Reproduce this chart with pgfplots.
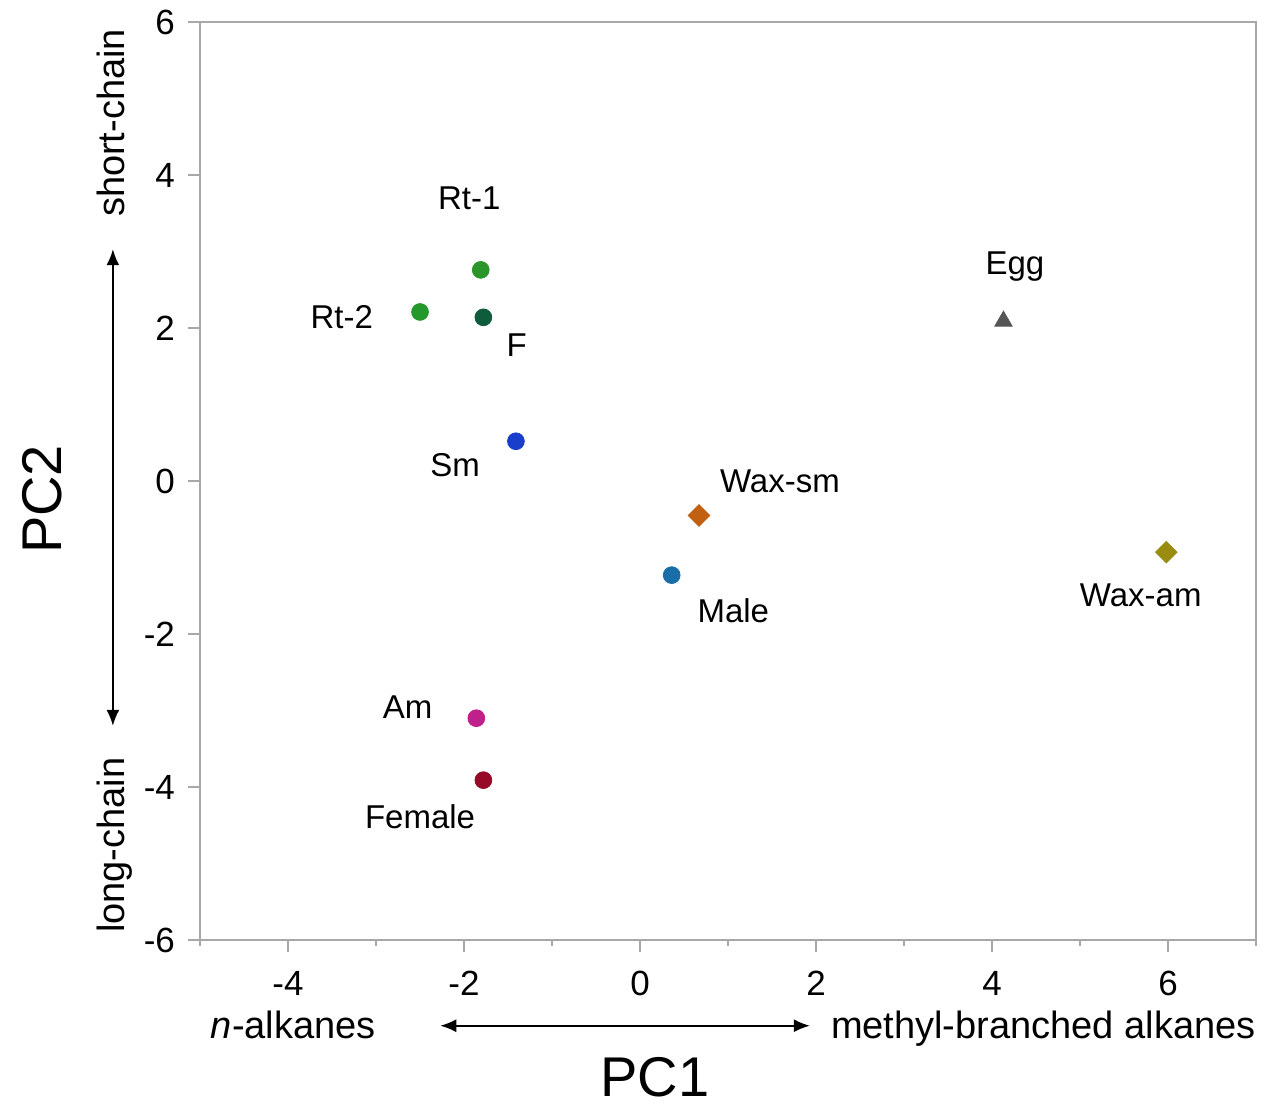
\documentclass[border=0pt]{standalone}
\usepackage{pgfplots}
\pgfplotsset{compat=1.18}
\usepackage{fontspec}
\setmainfont{Liberation Sans}
\usetikzlibrary{arrows.meta}
\definecolor{axgray}{HTML}{A8A8A8}
\definecolor{cRtone}{HTML}{2A962A}
\definecolor{cRttwo}{HTML}{24982A}
\definecolor{cF}{HTML}{0F5C3C}
\definecolor{cSm}{HTML}{1A3ECC}
\definecolor{cWaxsm}{HTML}{C06010}
\definecolor{cMale}{HTML}{1A6EA8}
\definecolor{cEgg}{HTML}{555555}
\definecolor{cWaxam}{HTML}{9A8C10}
\definecolor{cAm}{HTML}{C0208A}
\definecolor{cFemale}{HTML}{960A28}
\begin{document}
\begin{tikzpicture}
\begin{axis}[
  scale only axis,
  width=528pt, height=459pt,
  xmin=-5, xmax=7, ymin=-6, ymax=6,
  xtick={-4,-2,0,2,4,6},
  minor xtick={-5,-3,-1,1,3,5,7},
  ytick={-6,-4,-2,0,2,4,6},
  tick align=outside,
  major tick length=6pt,
  minor tick length=3pt,
  tick style={axgray, line width=1pt},
  axis line style={axgray, line width=1pt},
  xtick pos=bottom, ytick pos=left,
  /pgf/number format/assume math mode=true,
  ticklabel style={font=\fontsize{17.5}{20}\selectfont},
  xticklabel style={yshift=-6pt},
  yticklabel style={xshift=-3pt},
  clip=false,
]
\addplot[only marks, mark=*, mark size=4.2pt, color=cRtone] coordinates {(-1.81,2.76)};
\addplot[only marks, mark=*, mark size=4.2pt, color=cRttwo] coordinates {(-2.50,2.21)};
\addplot[only marks, mark=*, mark size=4.2pt, color=cF] coordinates {(-1.78,2.14)};
\addplot[only marks, mark=*, mark size=4.2pt, color=cSm] coordinates {(-1.41,0.52)};
\addplot[only marks, mark=square*, mark size=3.8pt, mark options={rotate=45}, color=cWaxsm] coordinates {(0.67,-0.45)};
\addplot[only marks, mark=*, mark size=4.2pt, color=cMale] coordinates {(0.36,-1.23)};
\addplot[only marks, mark=triangle*, mark size=5pt, color=cEgg] coordinates {(4.13,2.09)};
\addplot[only marks, mark=square*, mark size=3.8pt, mark options={rotate=45}, color=cWaxam] coordinates {(5.98,-0.93)};
\addplot[only marks, mark=*, mark size=4.2pt, color=cAm] coordinates {(-1.86,-3.10)};
\addplot[only marks, mark=*, mark size=4.2pt, color=cFemale] coordinates {(-1.78,-3.91)};

\begin{scope}[every node/.style={font=\fontsize{16.5}{19}\selectfont}]
\node at (axis cs:-1.94,3.69) {Rt-1};
\node at (axis cs:-3.39,2.14) {Rt-2};
\node at (axis cs:-1.40,1.78) {F};
\node at (axis cs:-2.10,0.21) {Sm};
\node at (axis cs:1.59,0.00) {Wax-sm};
\node at (axis cs:1.06,-1.69) {Male};
\node at (axis cs:4.26,2.80) {Egg};
\node at (axis cs:5.69,-1.50) {Wax-am};
\node at (axis cs:-2.64,-2.95) {Am};
\node at (axis cs:-2.50,-4.39) {Female};
\end{scope}

\begin{scope}[every node/.style={font=\fontsize{19}{22}\selectfont, inner sep=0pt}]
\node[rotate=90, anchor=base] at (axis cs:-5.86,4.68) {short-chain};
\node[rotate=90, anchor=base] at (axis cs:-5.86,-4.76) {long-chain};
\node[anchor=base] at (axis cs:-3.94,-7.29) {\textit{n}-alkanes};
\node[anchor=base east] at (axis cs:7.0,-7.29) {methyl-branched alkanes};
\end{scope}
\draw[{Latex[length=8pt,width=6.5pt]}-{Latex[length=8pt,width=6.5pt]}, line width=0.9pt, black]
  (axis cs:-5.99,3.03) -- (axis cs:-5.99,-3.20);
\draw[{Latex[length=8pt,width=6.5pt]}-{Latex[length=8pt,width=6.5pt]}, line width=0.9pt, black]
  (axis cs:-2.27,-7.12) -- (axis cs:1.93,-7.12);
\node[anchor=base, inner sep=0pt, font=\fontsize{28}{32}\selectfont] at (axis cs:0.17,-8.05) {PC1};
\node[rotate=90, anchor=base, inner sep=0pt, font=\fontsize{28}{32}\selectfont] at (axis cs:-6.57,-0.24) {PC2};
\coordinate (bbl) at (axis cs:-7.273,-8.183);
\coordinate (btr) at (axis cs:7.068,6.288);
\end{axis}
\useasboundingbox (bbl) rectangle (btr);
\end{tikzpicture}
\end{document}
